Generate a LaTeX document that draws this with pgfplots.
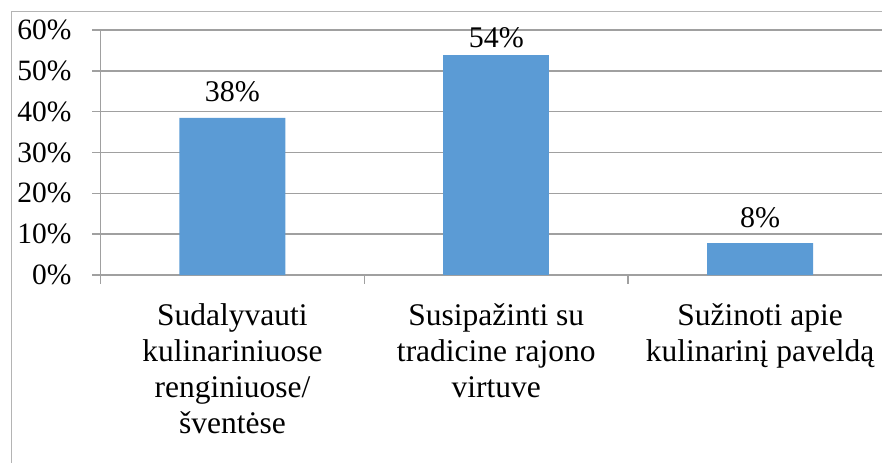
\documentclass[border=0pt]{standalone}
\usepackage{fontspec}
\setmainfont{Liberation Serif}
\usepackage{pgfplots}
\pgfplotsset{compat=1.18}
\definecolor{barblue}{RGB}{91,155,213}
\definecolor{axisgray}{RGB}{160,160,160}
\definecolor{framegray}{RGB}{180,180,180}
\begin{document}
\begin{tikzpicture}
\useasboundingbox (0,0) rectangle (882bp,463bp);
\draw[framegray, line width=1.2bp] (11.5bp,0) -- (11.5bp,451.5bp) -- (890bp,451.5bp);
\begin{axis}[
  at={(100.5bp,188bp)}, anchor=south west,
  scale only axis, width=781.5bp, height=245bp,
  xmin=-0.5, xmax=2.462, ymin=0, ymax=60,
  axis lines*=left,
  axis line style={axisgray, line width=1.5bp},
  ytick={0,10,20,30,40,50,60},
  yticklabels={0\%,10\%,20\%,30\%,40\%,50\%,60\%},
  ymajorgrids,
  grid style={axisgray, line width=1.5bp},
  xtick={-0.5,0.5,1.5},
  xticklabels={},
  tick align=outside,
  major tick length=8.5bp,
  tick style={axisgray, line width=1.5bp},
  y tick label style={font=\fontsize{29.5bp}{34bp}\selectfont, xshift=-17bp},
  extra x ticks={0,1,2},
  extra x tick labels={{Sudalyvauti\\kulinariniuose\\renginiuose/\\šventėse},{Susipažinti su\\tradicine rajono\\virtuve},{Sužinoti apie\\kulinarinį paveldą}},
  extra x tick style={major tick length=0pt, grid=none,
    tick label style={font=\fontsize{31.5bp}{36bp}\selectfont, align=center, anchor=north, yshift=-25bp}},
  ybar, bar width=106bp,
  point meta=explicit symbolic,
  nodes near coords,
  every node near coord/.append style={font=\fontsize{30bp}{34bp}\selectfont, anchor=base, yshift=16bp, text=black},
  clip=false,
]
\addplot[fill=barblue, draw=none, bar shift=0pt] coordinates {(0,38.5) [38\%] (2,7.8) [8\%]};
\addplot[fill=barblue, draw=none, bar shift=0pt,
  every node near coord/.append style={yshift=-9bp}] coordinates {(1,54) [54\%]};
\end{axis}
\end{tikzpicture}
\end{document}
